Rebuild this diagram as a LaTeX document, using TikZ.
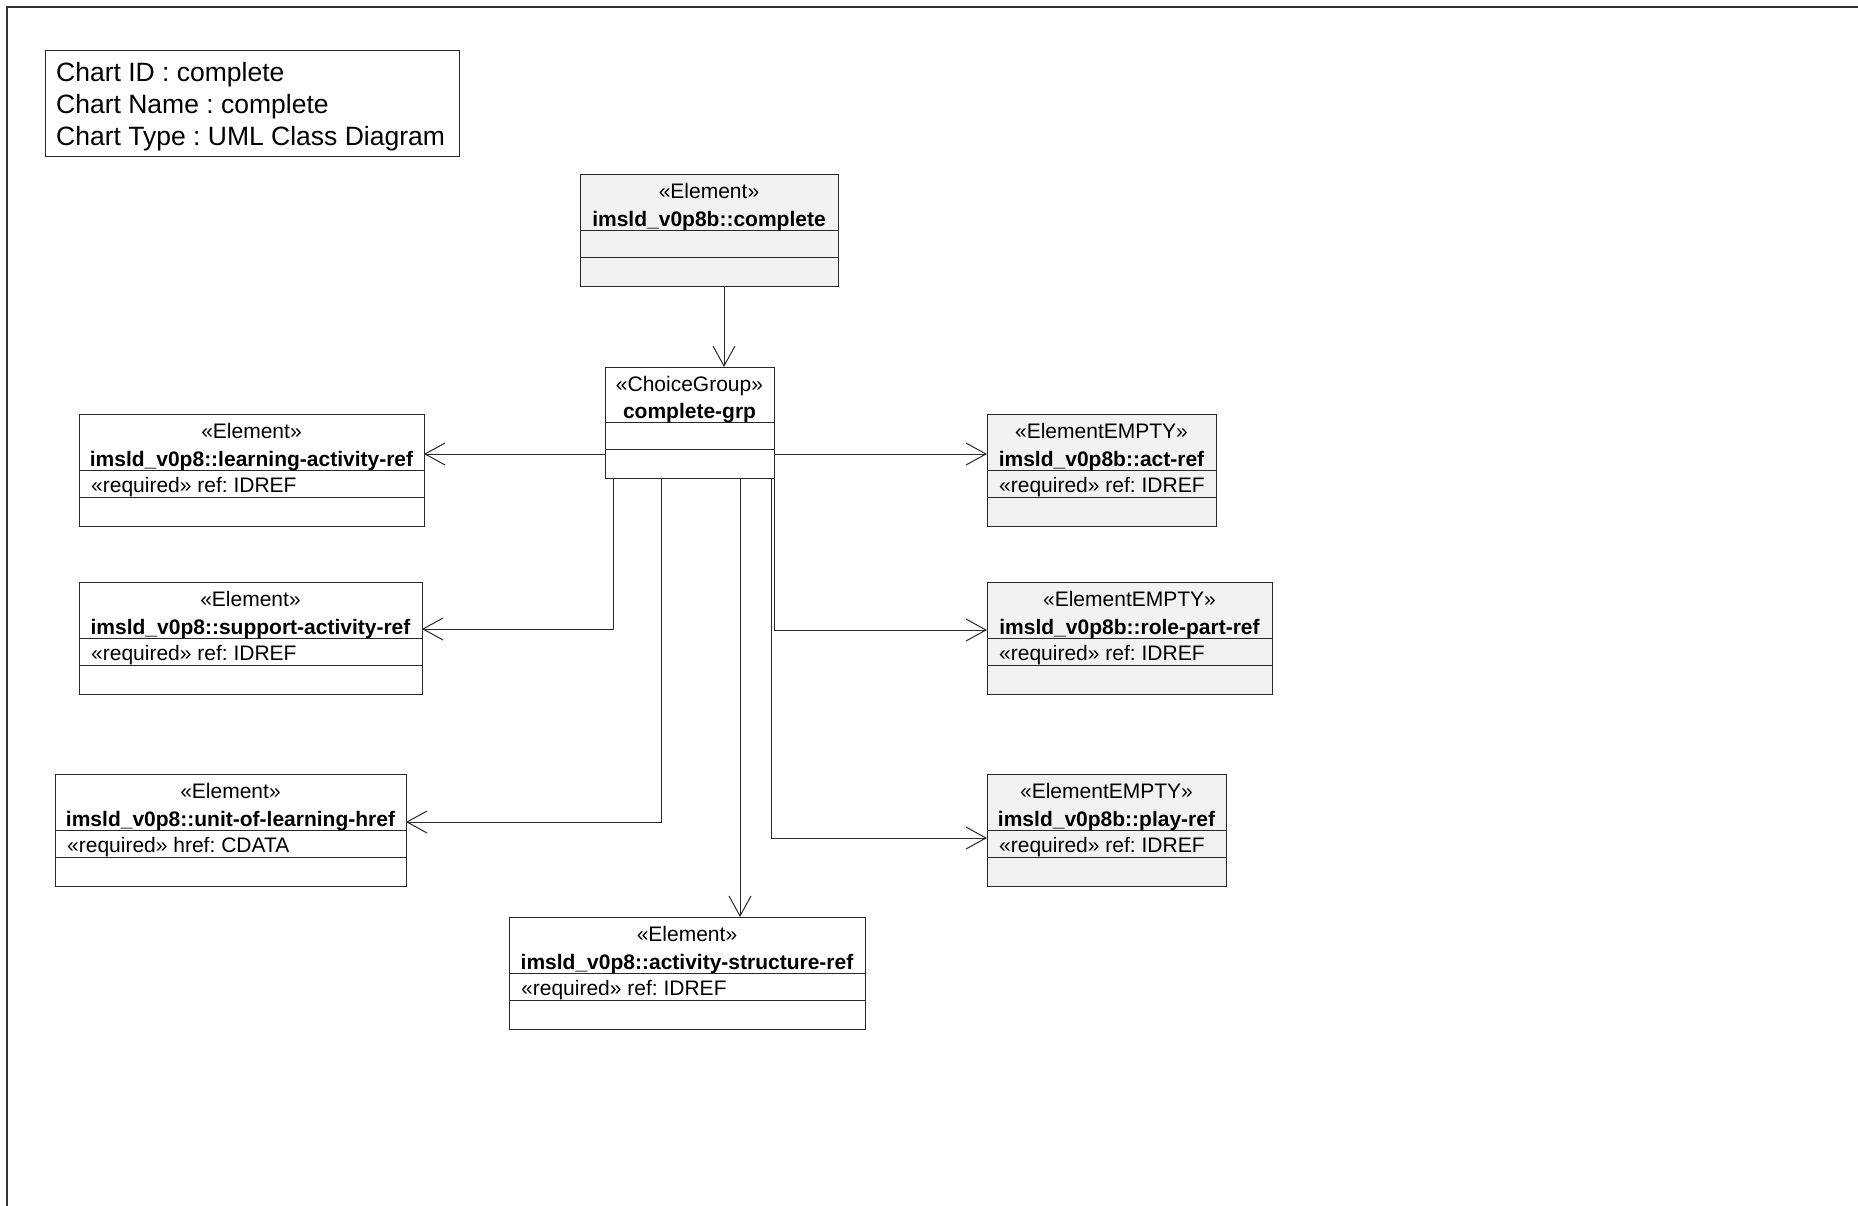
\documentclass[tikz,border=0pt]{standalone}
\usepackage{fontspec}
\setmainfont{Liberation Sans}
\usetikzlibrary{arrows.meta}
\frenchspacing
\definecolor{boxgray}{RGB}{242,242,242}
\definecolor{edge}{RGB}{40,40,40}
\tikzset{
  umlbox/.style={draw=edge, line width=1pt, anchor=north west, inner sep=0pt, outer sep=0pt},
  sect/.style={draw=edge, line width=1pt},
  boxtxt/.style={inner sep=0pt, font=\fontsize{21}{25}\selectfont},
  boldtxt/.style={inner sep=0pt, font=\fontsize{21}{25}\selectfont\bfseries},
  charttxt/.style={inner sep=0pt, anchor=base west, font=\fontsize{26.5}{31}\selectfont},
  conn/.style={draw=edge, line width=1pt, -{Straight Barb[length=20pt,width=22pt,line width=1pt]}},
  frameline/.style={draw=black!80, line width=1.6pt}
}
\newcommand{\umlclass}[8]{%
  \node[umlbox, fill=#5, minimum width=#4pt, minimum height=112pt] (#1) at (#2,#3) {};
  \draw[sect] ([yshift=-56pt]#1.north west) -- ([yshift=-56pt]#1.north east);
  \draw[sect] ([yshift=-83pt]#1.north west) -- ([yshift=-83pt]#1.north east);
  \node[boxtxt, anchor=base] (#1-st) at ([yshift=-24pt]#1.north) {«#6»};
  \node[boldtxt, anchor=base] (#1-nm) at ([yshift=-52pt]#1.north) {#7};
  \node[boxtxt, anchor=base west] (#1-at) at ([xshift=12pt,yshift=-78pt]#1.north west) {#8};
}
\begin{document}
\begin{tikzpicture}[x=1pt,y=-1pt]
\useasboundingbox (0,0) rectangle (1858,1206);
\fill[white] (0,0) rectangle (1858,1206);
% frame
\coordinate (fr1) at (7,1206);
\coordinate (fr2) at (7,7);
\coordinate (fr3) at (1858,7);
\draw[frameline] (fr1) -- (fr2) -- (fr3);

% chart info
\node[draw=edge, line width=1pt, anchor=north west, minimum width=414pt, minimum height=106pt, inner sep=0pt] (info) at (45,50) {};
\node[charttxt] (info1) at (56,81.5) {Chart ID : complete};
\node[charttxt] (info2) at (56,113.5) {Chart Name : complete};
\node[charttxt] (info3) at (56,145.5) {Chart Type : UML Class Diagram};

% classes
\umlclass{comp}{580}{175}{258}{boxgray}{Element}{imsld\_v0p8b::complete}{}
\umlclass{learn}{79}{414}{345}{white}{Element}{imsld\_v0p8::learning-activity-ref}{«required» ref: IDREF}
\umlclass{supp}{79}{582}{343}{white}{Element}{imsld\_v0p8::support-activity-ref}{«required» ref: IDREF}
\umlclass{unit}{55}{774}{351}{white}{Element}{imsld\_v0p8::unit-of-learning-href}{«required» href: CDATA}
\umlclass{act}{509}{917}{356}{white}{Element}{imsld\_v0p8::activity-structure-ref}{«required» ref: IDREF}
\umlclass{actref}{987}{414}{229}{boxgray}{ElementEMPTY}{imsld\_v0p8b::act-ref}{«required» ref: IDREF}
\umlclass{role}{987}{582}{285}{boxgray}{ElementEMPTY}{imsld\_v0p8b::role-part-ref}{«required» ref: IDREF}
\umlclass{play}{987}{774}{239}{boxgray}{ElementEMPTY}{imsld\_v0p8b::play-ref}{«required» ref: IDREF}

% choice group
\node[umlbox, fill=white, minimum width=169pt, minimum height=111pt] (grp) at (605,367) {};
\draw[sect] ([yshift=-55pt]grp.north west) -- ([yshift=-55pt]grp.north east);
\draw[sect] ([yshift=-82pt]grp.north west) -- ([yshift=-82pt]grp.north east);
\node[boxtxt, anchor=base] (grp-st) at ([yshift=-24pt]grp.north) {«ChoiceGroup»};
\node[boldtxt, anchor=base] (grp-nm) at ([yshift=-51pt]grp.north) {complete-grp};

% connector guides
\coordinate (h1) at (0,454);
\coordinate (h2) at (0,629);
\coordinate (h3) at (0,822);
\coordinate (h4) at (0,630);
\coordinate (h5) at (0,838);
\coordinate (v0) at (724,0);
\coordinate (v1) at (613,0);
\coordinate (v2) at (661,0);
\coordinate (v3) at (740,0);
\coordinate (v4) at (774,0);
\coordinate (v5) at (771.5,0);

\draw[conn] (v0 |- comp.south) -- (v0 |- grp.north);
\draw[conn] (grp.west |- h1) -- (learn.east |- h1);
\draw[conn] (grp.east |- h1) -- (actref.west |- h1);
\draw[conn] (v1 |- grp.south) |- (supp.east |- h2);
\draw[conn] (v2 |- grp.south) |- (unit.east |- h3);
\draw[conn] (v3 |- grp.south) -- (v3 |- act.north);
\draw[conn] (v4 |- grp.south) |- (role.west |- h4);
\draw[conn] (v5 |- grp.south) |- (play.west |- h5);
\end{tikzpicture}
\end{document}
